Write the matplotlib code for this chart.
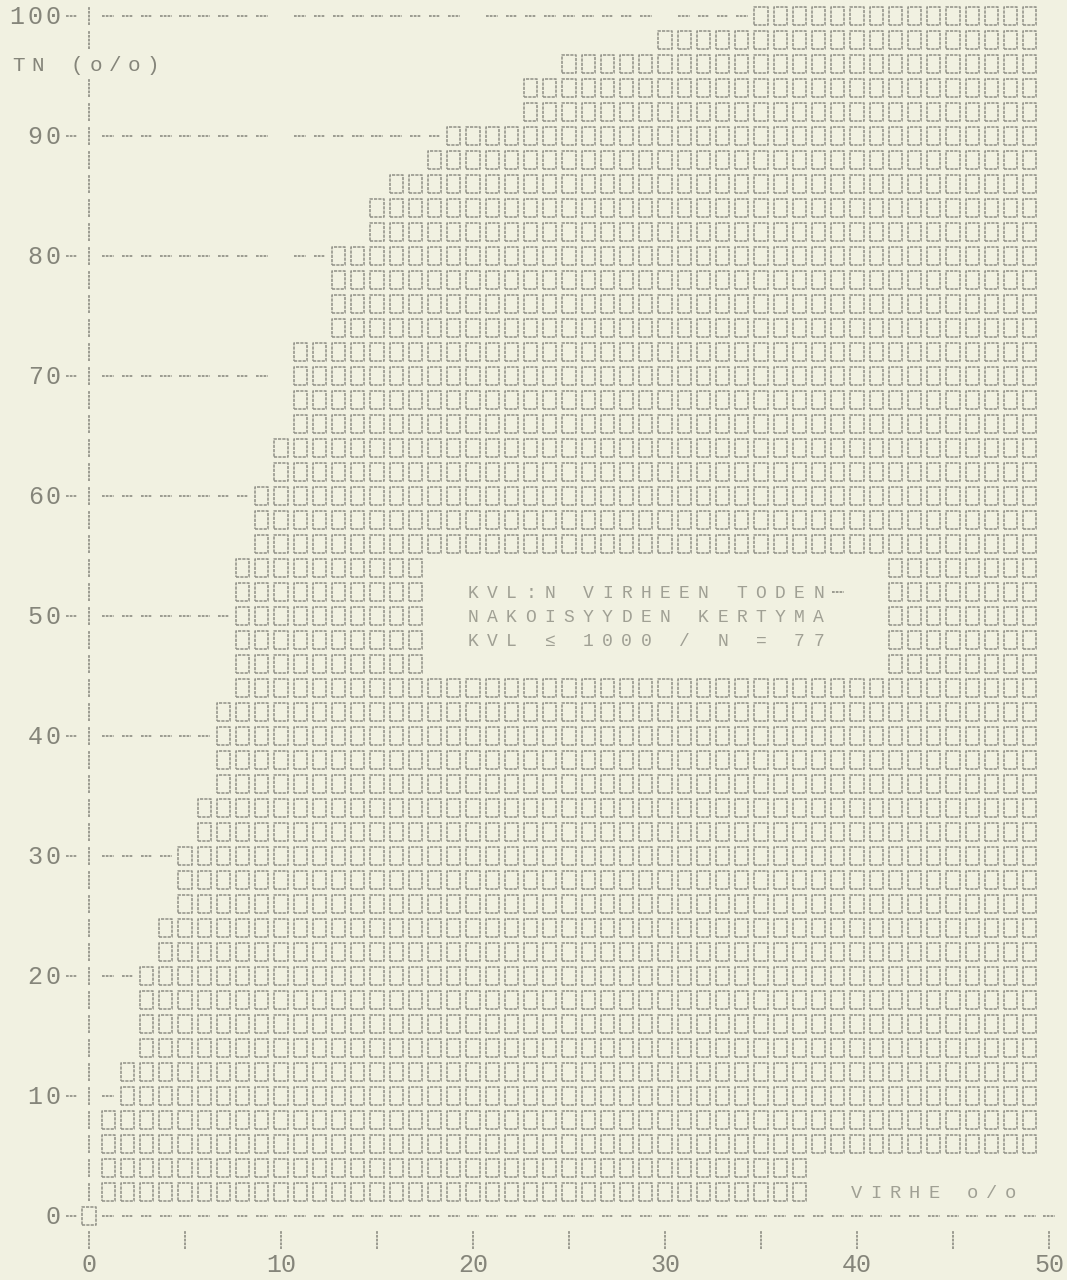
import matplotlib
matplotlib.use("Agg")
import matplotlib.pyplot as plt
from matplotlib.patches import Rectangle
from matplotlib.collections import PatchCollection, LineCollection

# ---- cumulative error printout: one row per TN level (%), boxes over VIRHE columns (%)
TN = list(range(100, 0, -2))
VIRHE_START = [35, 30, 25, 23, 23, 19, 18, 16, 15, 15,
               13, 13, 13, 13, 11, 11, 11, 11, 10, 10,
               9, 9, 9, 8, 8, 8, 8, 8, 8, 7,
               7, 7, 7, 6, 6, 5, 5, 5, 4, 4,
               3, 3, 3, 3, 2, 2, 1, 1, 1, 1]
VIRHE_END = [49] * 48 + [37, 37]
ZERO_ROW_BOX = [0]
ZERO_ROW_LINE_END = 50

# caption block printed inside the chart
CAPTION_ROWS = [54, 52, 50, 48, 46]
CAPTION_BLANK = (18, 41)
CAPTION_COL = 20
CAPTION_LINES = {52: "KVL:N VIRHEEN TODEN-",
                 50: "NAKOISYYDEN KERTYMA",
                 48: "KVL ≤ 1000 / N = 77"}

Y_TICKS = list(range(0, 101, 10))
X_TICKS = list(range(0, 51, 5))
X_LABELS = list(range(0, 51, 10))
DASH_GAPS = [10, 20, 30, 40]
Y_TITLE, Y_TITLE_ROW = "TN (o/o)", 96
X_TITLE, X_TITLE_ROW, X_TITLE_COL = "VIRHE o/o", 2, 40

# ---- styling
PAPER = "#f1f1e1"
INK = "#94948a"
LABEL_INK = "#85857a"
CAPTION_INK = "#a0a094"
MONO = ["Liberation Mono", "DejaVu Sans Mono"]
DPI = 100
COL_PX, ROW_PX = 19.2, 12.0          # pixels per VIRHE % and per TN %
X0_PX, Y0_PX = 89, 1216               # pixel position of (0, 0)
W_PX, H_PX = 1067, 1280

fig = plt.figure(figsize=(W_PX / DPI, H_PX / DPI), dpi=DPI)
fig.patch.set_facecolor(PAPER)
ax = fig.add_axes([0, 0, 1, 1])
ax.set_facecolor(PAPER)
ax.set_xlim(-X0_PX / COL_PX, (W_PX - X0_PX) / COL_PX)
ax.set_ylim(-(H_PX - Y0_PX) / ROW_PX, Y0_PX / ROW_PX)
ax.axis("off")

PT = DPI / 72.0


def cap_offset(size, ratio=0.66):
    """Half the cap height of a glyph, in TN units."""
    return ratio * size * PT / ROW_PX / 2


def put_chars(col0, tn, text, size, color, step=1.0):
    """Print text one character per column cell."""
    for i, ch in enumerate(text):
        if ch == " ":
            continue
        if ch == "-":
            dashes.append([(col0 + i * step - 0.3, tn), (col0 + i * step + 0.3, tn)])
            continue
        ax.text(col0 + i * step, tn - cap_offset(size), ch, ha="center", va="baseline",
                fontsize=size, color=color, family=MONO)


dashes = []
bars = []
boxes = []
BOX_W, BOX_H = 0.68, 1.5

# box rows
for tn, a, b in zip(TN, VIRHE_START, VIRHE_END):
    for c in range(a, b + 1):
        if tn in CAPTION_ROWS and CAPTION_BLANK[0] <= c <= CAPTION_BLANK[1]:
            continue
        boxes.append(Rectangle((c - BOX_W / 2, tn - BOX_H / 2), BOX_W, BOX_H))
    # dashed guide on labelled rows
    if tn in Y_TICKS:
        for c in range(1, a):
            if c not in DASH_GAPS:
                dashes.append([(c - 0.3, tn), (c + 0.3, tn)])
    # vertical axis
    if tn != Y_TITLE_ROW:
        bars.append([(0, tn - 0.75), (0, tn + 0.75)])

# zero row
for c in ZERO_ROW_BOX:
    boxes.append(Rectangle((c - BOX_W / 2, -BOX_H / 2), BOX_W, BOX_H))
for c in range(1, ZERO_ROW_LINE_END + 1):
    dashes.append([(c - 0.3, 0), (c + 0.3, 0)])

# x tick row
for c in X_TICKS:
    bars.append([(c, -2 - 0.75), (c, -2 + 0.75)])

ax.add_collection(PatchCollection(boxes, facecolor="none", edgecolor=INK,
                                  linewidth=1.15, linestyle=(0, (2.0, 0.7))))

# y tick labels
for v in Y_TICKS:
    s = str(v)
    n = len(s)
    for i, ch in enumerate(s):
        ax.text(-1.85 - (n - 1 - i) * 0.95, v - cap_offset(18), ch, ha="center",
                va="baseline", fontsize=18, color=LABEL_INK, family=MONO)
    dashes.append([(-1.2, v), (-0.6, v)])

# x tick labels
for v in X_LABELS:
    ax.text(v, -4 - cap_offset(18), str(v), ha="center", va="baseline",
            fontsize=18, color=LABEL_INK, family=MONO)

# axis titles and caption
put_chars(-3.65, Y_TITLE_ROW, Y_TITLE, 15, LABEL_INK)
put_chars(X_TITLE_COL, X_TITLE_ROW, X_TITLE, 13.5, CAPTION_INK)
for tn, line in CAPTION_LINES.items():
    put_chars(CAPTION_COL, tn, line, 13, CAPTION_INK)

ax.add_collection(LineCollection(dashes, colors=INK, linewidths=1.3,
                                 linestyles=(0, (1.5, 0.6))))
ax.add_collection(LineCollection(bars, colors=INK, linewidths=1.3,
                                 linestyles=(0, (1.5, 0.6))))

fig.savefig("out.png", dpi=DPI, facecolor=PAPER)
